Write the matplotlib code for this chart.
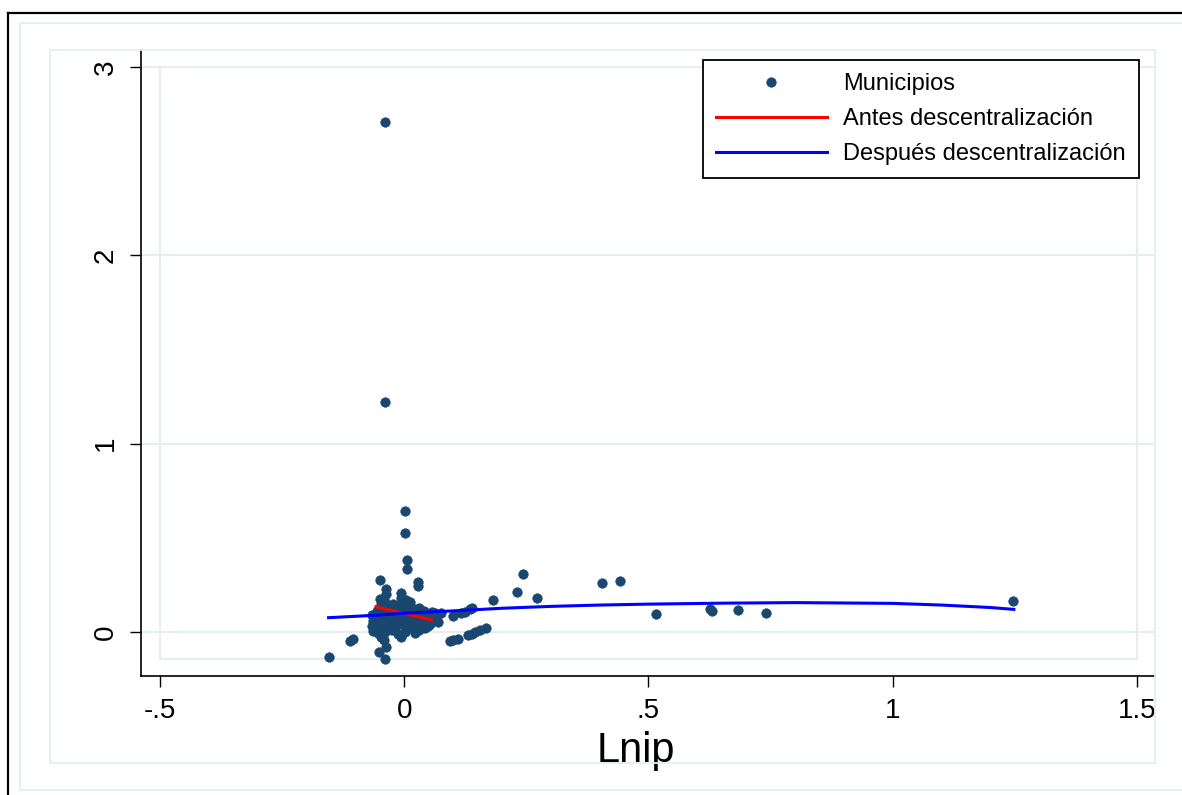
import matplotlib
matplotlib.use("Agg")
import matplotlib.pyplot as plt
from matplotlib.lines import Line2D
from matplotlib.patches import Rectangle

plt.rcParams["font.family"] = ["Liberation Sans", "DejaVu Sans"]

# Municipios: points (Lnip, y)
mun_x = [
    -0.040, -0.040, 0.002, 0.002, 0.005, 0.005, -0.049, 0.029, 0.029, -0.038,
    -0.038, -0.006, 0.004, 0.011, -0.050, 0.243, 0.230, 0.272, 0.182, 0.404,
    0.441, 0.516, 0.625, 0.631, 0.683, 0.740, 1.247,
    -0.155, -0.112, -0.104, -0.038, -0.051, -0.040,
    0.093, 0.100, 0.111, 0.131, 0.138, 0.144, 0.156, 0.168,
    0.056, 0.076, 0.100, 0.117, 0.124, 0.134, 0.138, 0.069, 0.052, 0.042,
    0.031, 0.021,
    -0.066, -0.064, -0.067, -0.065,
    -0.056, -0.054, -0.057, -0.055, -0.053,
    -0.048, -0.047, -0.049, -0.046, -0.048, -0.050, -0.047,
    -0.040, -0.041, -0.039, -0.042, -0.038, -0.040, -0.041,
    -0.032, -0.031, -0.033, -0.030, -0.034,
    -0.024, -0.023, -0.025, -0.022, -0.026,
    -0.015, -0.016, -0.014, -0.017, -0.013,
    -0.006, -0.007, -0.005, -0.008, -0.004, -0.006,
    0.003, 0.004, 0.002, 0.005, 0.001,
    0.012, 0.013, 0.011, 0.014,
    0.020, 0.021, 0.019, 0.022,
    0.030, 0.031, 0.029, 0.032,
    0.040, 0.041, 0.039,
    0.050, 0.051, 0.049,
    0.062, 0.063,
]
mun_y = [
    2.707, 1.220, 0.644, 0.524, 0.382, 0.334, 0.276, 0.267, 0.244, 0.227,
    0.202, 0.209, 0.170, 0.158, 0.174, 0.310, 0.214, 0.182, 0.170, 0.262,
    0.271, 0.094, 0.120, 0.113, 0.117, 0.101, 0.164,
    -0.131, -0.046, -0.038, -0.081, -0.105, -0.143,
    -0.048, -0.044, -0.037, -0.016, -0.010, -0.001, 0.009, 0.022,
    0.108, 0.099, 0.083, 0.099, 0.108, 0.120, 0.125, 0.055, 0.042, 0.020,
    0.011, -0.007,
    0.090, 0.060, 0.030, 0.005,
    0.110, 0.080, 0.050, 0.020, -0.005,
    0.150, 0.130, 0.100, 0.070, 0.040, 0.010, -0.025,
    0.160, 0.120, 0.090, 0.060, 0.030, 0.000, -0.040,
    0.140, 0.110, 0.080, 0.050, 0.020,
    0.150, 0.100, 0.070, 0.040, 0.010,
    0.130, 0.090, 0.060, 0.030, -0.010,
    0.180, 0.150, 0.110, 0.080, 0.040, -0.025,
    0.140, 0.120, 0.070, 0.020, 0.000,
    0.130, 0.100, 0.060, 0.030,
    0.120, 0.085, 0.050, 0.015,
    0.130, 0.100, 0.070, 0.035,
    0.110, 0.080, 0.050,
    0.095, 0.065, 0.030,
    0.100, 0.070,
]

# fitted lines
antes_x = [-0.058, 0.056]
antes_y = [0.134, 0.064]

despues_x = [-0.155, -0.05, 0.0, 0.1, 0.2, 0.3, 0.4, 0.5, 0.65, 0.8, 1.0, 1.1, 1.2, 1.248]
despues_y = [0.076, 0.090, 0.100, 0.112, 0.126, 0.136, 0.143, 0.148, 0.153, 0.156, 0.152, 0.143, 0.130, 0.120]

xticks = [-0.5, 0, 0.5, 1, 1.5]
xtick_labels = ["-.5", "0", ".5", "1", "1.5"]
yticks = [0, 1, 2, 3]
ytick_labels = ["0", "1", "2", "3"]

W, H = 1182, 795
NAVY = "#1a476f"
LIGHT = "#e6eef1"


def fx(px):
    return px / W


def fy(py):
    return 1 - py / H


fig = plt.figure(figsize=(W / 100, H / 100), dpi=100)
fig.patch.set_facecolor("white")

# Stata-like graph region frames
fig.add_artist(Line2D([fx(8), 1], [fy(13), fy(13)], color="black", lw=1.6))
fig.add_artist(Line2D([fx(8), fx(8)], [fy(13), 0], color="black", lw=1.6))
fig.add_artist(Rectangle((fx(20), fy(790)), 1.0, fy(23) - fy(790),
                         fill=False, edgecolor=LIGHT, lw=1.3))
fig.add_artist(Rectangle((fx(50), fy(763)), fx(1155) - fx(50), fy(50) - fy(763),
                         fill=False, edgecolor=LIGHT, lw=1.3))

ax = fig.add_axes([fx(141), fy(676), fx(1155) - fx(141), fy(50) - fy(676)])
ax.set_xlim(-0.539, 1.537)
ax.set_ylim(-0.2335, 3.089)

for s in ["top", "right"]:
    ax.spines[s].set_visible(False)
for s in ["left", "bottom"]:
    ax.spines[s].set_linewidth(1.2)

# gridlines and inner plot box
for yv in yticks:
    ax.axhline(yv, color=LIGHT, lw=1.5, zorder=0)
ax.add_patch(Rectangle((xticks[0], min(mun_y)), xticks[-1] - xticks[0], yticks[-1] - min(mun_y),
                       fill=False, edgecolor=LIGHT, lw=1.5, zorder=0))

ax.plot(mun_x, mun_y, "o", color=NAVY, ms=7, mec=NAVY, mew=0.3, label="Municipios", zorder=2)
ax.plot(antes_x, antes_y, color="red", lw=2.2, label="Antes descentralización", zorder=3)
ax.plot(despues_x, despues_y, color="blue", lw=2.2, label="Después descentralización", zorder=3)

ax.set_xticks(xticks)
ax.set_xticklabels(xtick_labels)
ax.set_yticks(yticks)
ax.set_yticklabels(ytick_labels, rotation=90, va="center")
ax.tick_params(axis="both", length=8, width=1, labelsize=20)
ax.tick_params(axis="x", pad=8)
ax.tick_params(axis="y", pad=8)

ax.set_xlabel("Lnip", fontsize=30)
ax.xaxis.set_label_coords(0.488, -0.088, transform=ax.transAxes)
ax.xaxis.label.set_va("top")

leg = ax.legend(loc="upper left", bbox_to_anchor=(0.554, 0.984), fontsize=17,
                frameon=True, fancybox=False, edgecolor="black", framealpha=1,
                handlelength=4.7, handletextpad=0.7, labelspacing=0.55,
                borderpad=0.55, borderaxespad=0, numpoints=1)
leg.get_frame().set_linewidth(1.3)

fig.savefig("out.png", dpi=100, facecolor="white")
